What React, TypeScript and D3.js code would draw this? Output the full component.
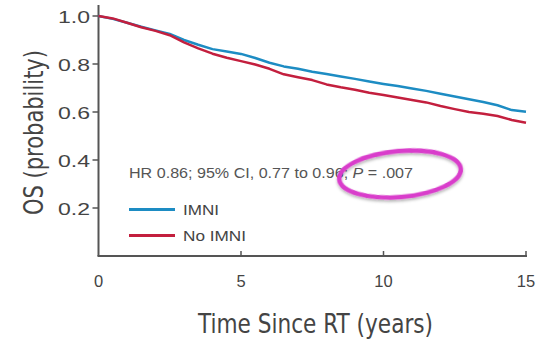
import React from "react";
import * as d3 from "d3";

const times = [0, 0.5, 1, 1.5, 2, 2.5, 3, 3.5, 4, 4.5, 5, 5.5, 6, 6.5, 7, 7.5, 8, 8.5, 9, 9.5, 10, 10.5, 11, 11.5, 12, 12.5, 13, 13.5, 14, 14.5, 15];
const imni = [1.0, 0.988, 0.972, 0.955, 0.94, 0.925, 0.9, 0.88, 0.862, 0.852, 0.842, 0.825, 0.805, 0.79, 0.78, 0.768, 0.758, 0.748, 0.738, 0.727, 0.717, 0.708, 0.698, 0.688, 0.676, 0.665, 0.653, 0.642, 0.628, 0.608, 0.601];
const noImni = [1.0, 0.99, 0.972, 0.953, 0.938, 0.92, 0.89, 0.865, 0.843, 0.826, 0.812, 0.798, 0.78, 0.757, 0.745, 0.733, 0.715, 0.703, 0.693, 0.68, 0.671, 0.66, 0.65, 0.64, 0.625, 0.612, 0.6, 0.593, 0.583, 0.567, 0.555];
const xTicks = [0, 5, 10, 15];
const yTicks = [0.2, 0.4, 0.6, 0.8, 1.0];
const seriesNames = ["IMNI", "No IMNI"];
const legendWidths = [36, 63];
const colors = ["#1d8cc3", "#c31f3e"];

const COND = "'DejaVu Sans Condensed', 'Liberation Sans Narrow', sans-serif";
const SANS = "'Liberation Sans', Arial, sans-serif";

export default function App() {
  const W = 538, H = 339;
  const x = d3.scaleLinear().domain([0, 15]).range([98.5, 526]);
  const y = d3.scaleLinear().domain([0, 1]).range([256, 16]);
  const line = d3.line<[number, number]>().x(d => x(d[0])).y(d => y(d[1]));
  const seriesData = [imni, noImni].map(vals => times.map((t, i) => [t, vals[i]] as [number, number]));

  return (
    <svg width={W} height={H} style={{ position: "absolute", left: 0, top: 0, background: "#fff" }}>
      <defs>
        <filter id="sh" x="-20%" y="-30%" width="140%" height="170%">
          <feDropShadow dx="0" dy="2" stdDeviation="1.5" floodColor="#000" floodOpacity="0.3" />
        </filter>
      </defs>
      {/* axes */}
      <line x1={x(0)} x2={x(0)} y1={5} y2={256} stroke="#555" strokeWidth={2} />
      <line x1={x(0) - 1} x2={x(15) + 1} y1={256} y2={256} stroke="#555" strokeWidth={2} />
      {yTicks.map(t => (
        <g key={t}>
          <line x1={x(0) - 6} x2={x(0)} y1={y(t)} y2={y(t)} stroke="#555" strokeWidth={1.5} />
          <text x={58} y={y(t) + 6.5} fontSize={16.5} fill="#444" fontFamily={SANS}
            textLength={32} lengthAdjust="spacingAndGlyphs">{t.toFixed(1)}</text>
        </g>
      ))}
      {xTicks.map(t => (
        <g key={t}>
          {t > 0 && <line x1={x(t)} x2={x(t)} y1={256} y2={251} stroke="#555" strokeWidth={1.5} />}
          <text x={x(t)} y={287} textAnchor="middle" fontSize={16.5} fill="#444" fontFamily={SANS}>{t}</text>
        </g>
      ))}
      <text x={198} y={333} fontSize={27} fill="#444" fontFamily={COND}
        textLength={235} lengthAdjust="spacingAndGlyphs">Time Since RT (years)</text>
      <text transform="translate(43,215) rotate(-90)" fontSize={27} fill="#444" fontFamily={COND}
        textLength={165} lengthAdjust="spacingAndGlyphs">OS (probability)</text>
      {/* curves */}
      {seriesData.map((d, i) => (
        <path key={i} d={line(d) || ""} fill="none" stroke={colors[i]} strokeWidth={2.5} strokeLinejoin="round" />
      ))}
      {/* annotation */}
      <text x={129} y={178} fontSize={15} fill="#555" fontFamily={SANS}
        textLength={284} lengthAdjust="spacingAndGlyphs">
        HR 0.86; 95% CI, 0.77 to 0.96; <tspan fontStyle="italic">P</tspan> = .007
      </text>
      {/* legend */}
      {seriesNames.map((n, i) => (
        <g key={n}>
          <line x1={129} x2={175} y1={209.5 + i * 26} y2={209.5 + i * 26} stroke={colors[i]} strokeWidth={3} />
          <text x={183} y={215 + i * 26} fontSize={15.5} fill="#444" fontFamily={SANS}
            textLength={legendWidths[i]} lengthAdjust="spacingAndGlyphs">{n}</text>
        </g>
      ))}
      {/* highlight ellipse */}
      <ellipse cx={400} cy={174} rx={61} ry={23} fill="none" stroke="#d93ccb" strokeWidth={4.5}
        transform="rotate(-5 400 174)" filter="url(#sh)" />
    </svg>
  );
}
